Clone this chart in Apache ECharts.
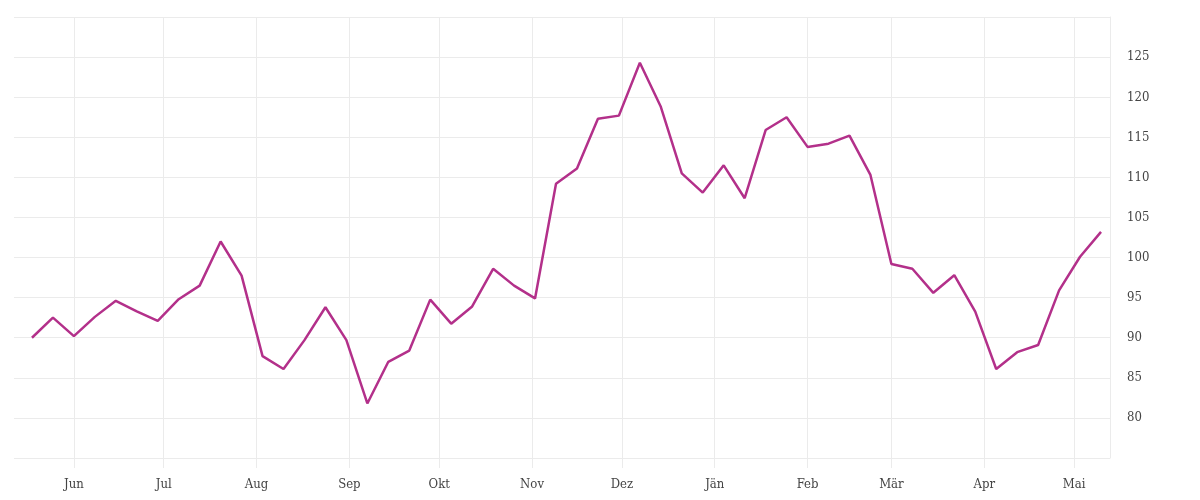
<!DOCTYPE html>
<html>
<head>
<meta charset="utf-8">
<script src="https://cdn.jsdelivr.net/npm/echarts@6/dist/echarts.min.js"></script>
<style>html,body{margin:0;padding:0;background:#fff}#c{width:1200px;height:500px}</style>
</head>
<body>
<div id="c"></div>
<script>
const dates = ["2018-05-18","2018-05-25","2018-06-01","2018-06-08","2018-06-15","2018-06-22","2018-06-29",
"2018-07-06","2018-07-13","2018-07-20","2018-07-27","2018-08-03","2018-08-10","2018-08-17","2018-08-24","2018-08-31",
"2018-09-07","2018-09-14","2018-09-21","2018-09-28","2018-10-05","2018-10-12","2018-10-19","2018-10-26",
"2018-11-02","2018-11-09","2018-11-16","2018-11-23","2018-11-30","2018-12-07","2018-12-14","2018-12-21","2018-12-28",
"2019-01-04","2019-01-11","2019-01-18","2019-01-25","2019-02-01","2019-02-08","2019-02-15","2019-02-22",
"2019-03-01","2019-03-08","2019-03-15","2019-03-22","2019-03-29","2019-04-05","2019-04-12","2019-04-19","2019-04-26",
"2019-05-03","2019-05-10"];
const values = [90.0,92.5,90.2,92.6,94.6,93.3,92.1,94.8,96.5,102.0,97.75,87.7,86.1,89.7,93.8,89.7,
81.8,87.0,88.4,94.75,91.75,93.9,98.6,96.5,94.9,109.2,111.1,117.3,117.7,124.3,118.8,110.5,108.1,111.5,107.4,
115.9,117.5,113.8,114.2,115.2,110.3,99.2,98.6,95.6,97.8,93.25,86.1,88.2,89.1,95.9,100.1,103.2];
const monthNames = ["Jän","Feb","Mär","Apr","Mai","Jun","Jul","Aug","Sep","Okt","Nov","Dez"];
const xMin = "2018-05-12";
const xMax = "2019-05-13";

const font = '"DejaVu Serif Condensed", "DejaVu Serif", serif';
const gridColor = '#ebebeb';
const chart = echarts.init(document.getElementById('c'), null, {renderer: 'canvas'});
chart.setOption({
  animation: false,
  backgroundColor: '#fff',
  grid: {left: 14, right: 90, top: 17, bottom: 42, containLabel: false},
  xAxis: {
    type: 'time',
    min: xMin, max: xMax,
    minInterval: 28 * 86400000,
    maxInterval: 31 * 86400000,
    axisLine: {show: false},
    axisTick: {show: true, length: 10, lineStyle: {color: gridColor}},
    splitLine: {show: true, showMinLine: false, showMaxLine: false, lineStyle: {color: gridColor, width: 1}},
    axisLabel: {
      margin: 20,
      color: '#444',
      fontFamily: font,
      fontSize: 13,
      showMinLabel: false, showMaxLabel: false,
      formatter: function (v) { return monthNames[new Date(v).getMonth()]; }
    }
  },
  yAxis: {
    type: 'value',
    position: 'right',
    min: 75, max: 130, interval: 5,
    axisLine: {show: true, lineStyle: {color: gridColor}},
    axisTick: {show: false},
    splitLine: {show: true, lineStyle: {color: gridColor, width: 1}},
    axisLabel: {
      margin: 17,
      color: '#444',
      fontFamily: font,
      fontSize: 13,
      padding: [7, 0, 0, 0],
      showMinLabel: false, showMaxLabel: false
    }
  },
  series: [{
    type: 'line',
    data: dates.map((d, i) => [d, values[i]]),
    showSymbol: false,
    symbol: 'none',
    lineStyle: {color: '#b3308a', width: 2.5},
    itemStyle: {color: '#b3308a'}
  }]
});
</script>
</body>
</html>
